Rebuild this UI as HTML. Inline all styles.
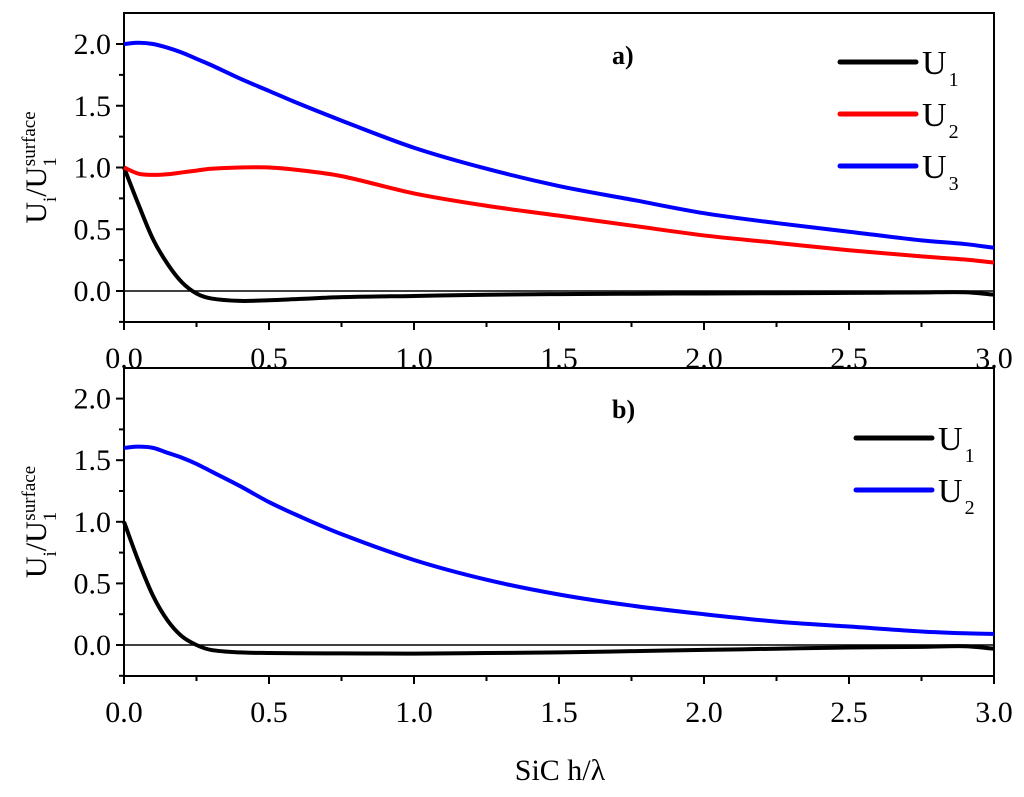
<!DOCTYPE html>
<html><head><meta charset="utf-8"><style>
body{margin:0;background:#fff;}
svg text{font-family:"Liberation Serif",serif;fill:#000;}
</style></head><body>
<svg id="c" width="1024" height="792" viewBox="0 0 1024 792"></svg>
<script>
const xs=[0,0.05,0.1,0.15,0.2,0.25,0.3,0.4,0.5,0.6,0.75,1.0,1.25,1.5,1.75,2.0,2.25,2.5,2.75,2.9,3.0];
const aU1=[1.0,0.7,0.42,0.22,0.07,-0.02,-0.06,-0.08,-0.075,-0.065,-0.05,-0.04,-0.03,-0.025,-0.022,-0.02,-0.018,-0.015,-0.012,-0.01,-0.03];
const aU2=[1.0,0.95,0.94,0.945,0.96,0.975,0.99,1.0,1.0,0.98,0.93,0.79,0.69,0.61,0.53,0.45,0.39,0.33,0.28,0.255,0.23];
const aU3=[2.0,2.01,2.0,1.97,1.93,1.88,1.83,1.72,1.62,1.52,1.38,1.16,0.99,0.85,0.74,0.63,0.55,0.48,0.41,0.38,0.35];
const bU1=[1.0,0.68,0.4,0.2,0.07,0.0,-0.04,-0.06,-0.065,-0.067,-0.068,-0.07,-0.065,-0.06,-0.05,-0.04,-0.03,-0.02,-0.015,-0.01,-0.03];
const bU2=[1.6,1.61,1.6,1.56,1.52,1.47,1.41,1.29,1.16,1.05,0.9,0.69,0.53,0.41,0.32,0.25,0.19,0.15,0.11,0.095,0.09];
const xTicks=["0.0","0.5","1.0","1.5","2.0","2.5","3.0"];
const yTicks=["0.0","0.5","1.0","1.5","2.0"];
const svg=document.getElementById('c');
const NS='http://www.w3.org/2000/svg';
function mk(t,a,txt){const e=document.createElementNS(NS,t);for(const k in a)e.setAttribute(k,a[k]);if(txt!==undefined)e.textContent=txt;svg.appendChild(e);return e;}
const X0=124,X1=994;
const sx=v=>X0+(v/3)*(X1-X0);
function panel(top,bottom,zeroY,unit,series,label,labelY,legendY,legendX,key){
  const sy=v=>zeroY-v*unit*2;
  const f=mk('rect',{x:X0,y:top,width:X1-X0,height:bottom-top,fill:'none',stroke:'#000','stroke-width':2});
  
  const z=mk('line',{x1:X0,x2:X1,y1:zeroY,y2:zeroY,stroke:'#000','stroke-width':1.5});
  
  for(let i=-1;i<=8;i++){const v=i*0.25;const y=sy(v);if(y<top-1||y>bottom+1)continue;
    const t=mk('line',{x1:X0-(i%2===0?8:5),x2:X0,y1:y,y2:y,stroke:'#000','stroke-width':2});
    }
  yTicks.forEach(s=>{const t=mk('text',{x:X0-13,y:sy(parseFloat(s))+10,'font-size':30,'text-anchor':'end'},s);
    });
  for(let i=0;i<=12;i++){const x=sx(i*0.25);
    const t=mk('line',{x1:x,x2:x,y1:bottom,y2:bottom+(i%2===0?8:5),stroke:'#000','stroke-width':2});
    }
  xTicks.forEach(s=>{const t=mk('text',{x:sx(parseFloat(s)),y:bottom+46,'font-size':30,'text-anchor':'middle'},s);
    });
  series.forEach(([vals,col,nm])=>{
    const p=vals.map((v,i)=>[sx(xs[i]),sy(v)]);
    let d='M'+p[0][0]+','+p[0][1];
    for(let i=0;i<p.length-1;i++){const p0=p[Math.max(0,i-1)],p1=p[i],p2=p[i+1],p3=p[Math.min(p.length-1,i+2)];
      const h=p2[0]-p1[0];
      const m1=(p2[1]-p0[1])/(p2[0]-p0[0]||1), m2=(p3[1]-p1[1])/(p3[0]-p1[0]||1);
      d+=` C${p1[0]+h/3},${p1[1]+m1*h/3} ${p2[0]-h/3},${p2[1]-m2*h/3} ${p2[0]},${p2[1]}`;}
    const e=mk('path',{d:d,fill:'none',stroke:col,'stroke-width':4,'stroke-linejoin':'round'});
    });
  series.forEach(([vals,col,nm],i)=>{const y=legendY+i*52;
    const l=mk('line',{x1:legendX,x2:legendX+76,y1:y,y2:y,stroke:col,'stroke-width':5,'stroke-linecap':'round'});
    
    const t=mk('text',{x:legendX+82,y:y+12,'font-size':34},'');
    
    const a=document.createElementNS(NS,'tspan');a.textContent='U';t.appendChild(a);
    const b=document.createElementNS(NS,'tspan');b.setAttribute('font-size','20');b.setAttribute('dy','12');b.setAttribute('dx','2');b.textContent=nm.slice(1);t.appendChild(b);});
  const pl=mk('text',{x:612,y:labelY,'font-size':26,'font-weight':'bold'},label);
  
  const cy=(top+bottom)/2;
  const yt=mk('text',{transform:`translate(46,${cy}) rotate(-90)`,'font-size':30,'text-anchor':'middle'},'');
  
  [['U',null],['i','sub'],['/U',null],['1','sub'],['surface','sup']].forEach(([s,k])=>{
    const ts=document.createElementNS(NS,'tspan');ts.textContent=s;
    if(k==='sub'){ts.setAttribute('font-size','19');ts.setAttribute('dy','10');}
    if(k==='sup'){ts.setAttribute('font-size','19');ts.setAttribute('dy','-21');ts.setAttribute('dx','-9');}
    if(s==='/U'){ts.setAttribute('dy','-10');}
    yt.appendChild(ts);});
}
panel(13,322,291,61.75,[[aU1,'#000','U1'],[aU2,'#ff0000','U2'],[aU3,'#0000ff','U3']],'a)',64,62,840,'panel-a');
panel(368,676,645,61.6,[[bU1,'#000','U1'],[bU2,'#0000ff','U2']],'b)',418,438,856,'panel-b');
const xt=mk('text',{x:560,y:780,'font-size':30,'text-anchor':'middle'},'SiC h/λ');

</script>
</body></html>
